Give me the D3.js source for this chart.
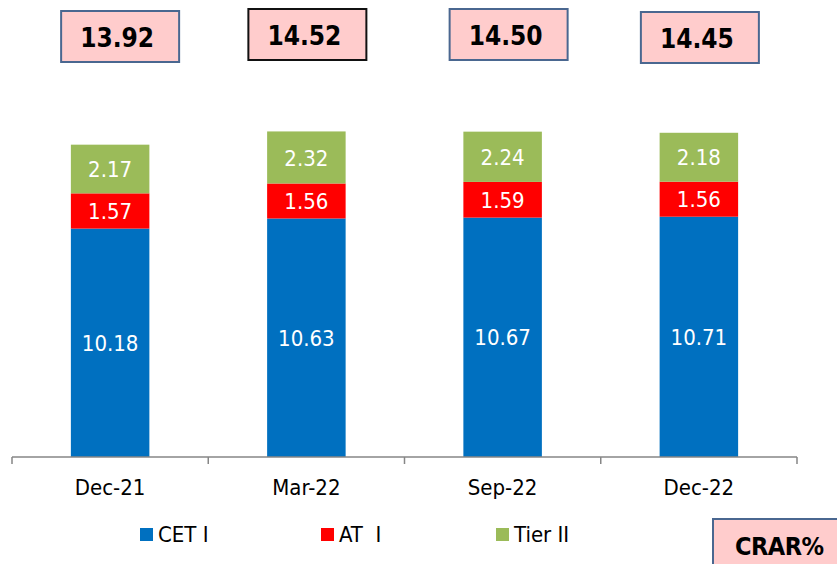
<!DOCTYPE html>
<html>
<head>
<meta charset="utf-8">
<script src="https://cdn.jsdelivr.net/npm/d3@7"></script>
<style>
  body { margin: 0; background: #fff; }
  svg text { font-family: "DejaVu Sans", Verdana, sans-serif; font-stretch: condensed; }
</style>
</head>
<body>
<div id="container"></div>
<script>
/* CONSTANTS AND GLOBALS */
const width = 837,
  height = 564,
  margin = { top: 98, bottom: 107, left: 12, right: 40 };

// data
const periods = ["Dec-21", "Mar-22", "Sep-22", "Dec-22"];
const cet1 = [10.18, 10.63, 10.67, 10.71];
const at1 = [1.57, 1.56, 1.59, 1.56];
const tier2 = [2.17, 2.32, 2.24, 2.18];
const totals = ["13.92", "14.52", "14.50", "14.45"];
const seriesNames = ["CET I", "AT  I", "Tier II"];
const colors = ["#0070C0", "#FF0000", "#9BBB59"];

// boxes on top sit a bit off the bar centres
const boxNudge = [10, 1, 6, 1];
const boxTop = [11, 9, 9, 12];
const boxStroke = ["#4A6790", "#111", "#4A6790", "#4A6790"];

let svg, xScale, yScale;

const rows = periods.map((p, i) => ({
  period: p, "CET I": cet1[i], "AT  I": at1[i], "Tier II": tier2[i]
}));

init();

function init() {
  svg = d3.select("#container")
    .append("svg")
    .attr("width", width)
    .attr("height", height);

  xScale = d3.scaleBand()
    .domain(periods)
    .range([margin.left, width - margin.right])
    .paddingInner(.6)
    .paddingOuter(.3);

  const baseY = height - margin.bottom;
  yScale = d3.scaleLinear()
    .domain([0, 16])
    .range([baseY, margin.top]);

  const stack = d3.stack().keys(seriesNames)(rows);

  // bars
  const layers = svg.selectAll("g.layer")
    .data(stack)
    .join("g")
    .attr("class", "layer")
    .attr("fill", (d, i) => colors[i]);

  layers.selectAll("rect")
    .data(d => d)
    .join("rect")
    .attr("x", d => xScale(d.data.period))
    .attr("width", xScale.bandwidth())
    .attr("y", d => yScale(d[1]))
    .attr("height", d => yScale(d[0]) - yScale(d[1]));

  // white value labels inside segments
  layers.selectAll("text")
    .data(d => d.map(v => ({ v, key: d.key })))
    .join("text")
    .attr("x", d => xScale(d.v.data.period) + xScale.bandwidth() / 2)
    .attr("y", d => (yScale(d.v[0]) + yScale(d.v[1])) / 2)
    .attr("dy", "0.37em")
    .attr("text-anchor", "middle")
    .attr("fill", "#fff")
    .attr("font-size", 22)
    .text(d => d.v.data[d.key].toFixed(2));

  // x axis
  const step = xScale.step();
  const xAxis = d3.axisBottom(xScale).tickSize(0).tickPadding(0);
  const xAxisGroup = svg.append("g")
    .attr("class", "xAxis")
    .attr("transform", `translate(0, ${baseY})`)
    .call(xAxis);
  xAxisGroup.select(".domain")
    .attr("stroke", "#868686")
    .attr("stroke-width", 1.5)
    .attr("d", `M${margin.left},0H${width - margin.right}`);
  xAxisGroup.selectAll(".tick text")
    .attr("y", 38)
    .attr("dy", 0)
    .attr("font-size", 22)
    .attr("fill", "#000");

  const bounds = periods.map(p => xScale(p) - step * .3).concat([width - margin.right]);
  xAxisGroup.selectAll("line.sep")
    .data(bounds)
    .join("line")
    .attr("class", "sep")
    .attr("x1", d => d).attr("x2", d => d)
    .attr("y1", 0).attr("y2", 7)
    .attr("stroke", "#868686")
    .attr("stroke-width", 1.5);

  // total boxes
  const boxes = svg.selectAll("g.total")
    .data(totals)
    .join("g")
    .attr("class", "total")
    .attr("transform", (d, i) => `translate(${xScale(periods[i]) + xScale.bandwidth() / 2 + boxNudge[i]}, ${boxTop[i]})`);
  boxes.append("rect")
    .attr("x", -59).attr("y", 0)
    .attr("width", 118).attr("height", 51)
    .attr("fill", "#FFCCCC")
    .attr("stroke", (d, i) => boxStroke[i])
    .attr("stroke-width", 2);
  boxes.append("text")
    .attr("x", -3).attr("y", 36)
    .attr("text-anchor", "middle")
    .attr("font-size", 26)
    .attr("font-weight", "bold")
    .attr("fill", "#000")
    .text(d => d);

  // legend
  const legendX = [140, 321, 496];
  const legend = svg.selectAll("g.legend")
    .data(seriesNames)
    .join("g")
    .attr("class", "legend")
    .attr("transform", (d, i) => `translate(${legendX[i]}, 528)`);
  legend.append("rect")
    .attr("width", 13).attr("height", 13)
    .attr("fill", (d, i) => colors[i]);
  legend.append("text")
    .attr("x", 18).attr("y", 14)
    .attr("font-size", 22)
    .attr("fill", "#000")
    .style("white-space", "pre")
    .text(d => d);

  // CRAR% tag
  svg.append("rect")
    .attr("x", 713).attr("y", 519)
    .attr("width", 130).attr("height", 60)
    .attr("fill", "#FFCCCC")
    .attr("stroke", "#4A6790")
    .attr("stroke-width", 2);
  svg.append("text")
    .attr("x", 735).attr("y", 555)
    .attr("font-size", 25)
    .attr("font-weight", "bold")
    .attr("letter-spacing", -0.5)
    .attr("fill", "#000")
    .text("CRAR%");
}
</script>
</body>
</html>
